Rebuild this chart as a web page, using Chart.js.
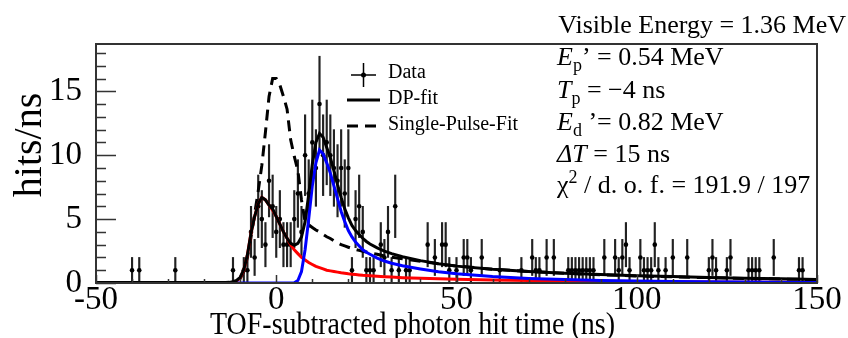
<!DOCTYPE html>
<html>
<head>
<meta charset="utf-8">
<script src="https://cdn.jsdelivr.net/npm/chart.js@4.4.1/dist/chart.umd.min.js"></script>
<style>
  html, body { margin: 0; padding: 0; background: #fff; }
  #wrap { width: 848px; height: 338px; position: relative; }
</style>
</head>
<body>
<div id="wrap"><canvas id="myChart"></canvas></div>
<script>
// measured hits per 1 ns bin (bin centre in ns)
var dataX = [-40, -38, -28, -12, -9, -8, -7, -6, -5, -4,
             -3, -2, -1, 0, 1, 2, 3, 4, 5, 6,
             7, 8, 9, 10, 11, 12, 13, 14, 15, 16,
             17, 18, 19, 20, 21, 22, 23, 24, 25, 26,
             27, 29, 30, 31, 32, 33, 34, 36, 37, 42,
             44, 46, 47, 48, 50, 52, 53, 54, 57, 62,
             68, 71, 72, 73, 75, 77, 81, 82, 83, 84,
             85, 86, 87, 88, 91, 94, 95, 96, 97, 98,
             101, 102, 103, 104, 105, 106, 108, 110, 114, 120,
             121, 122, 125, 126, 131, 132, 133, 134, 138, 145,
             146];
var dataCounts = [1, 1, 1, 1, 1, 1, 4, 2, 6, 5,
                  3, 8, 6, 4, 5, 3, 3, 3, 5, 7,
                  4, 10, 7, 11, 9, 14, 10, 11, 10, 9,
                  8, 9, 7, 9, 1, 5, 6, 4, 1, 1,
                  1, 3, 2, 4, 1, 6, 1, 1, 1, 3,
                  2, 3, 3, 1, 1, 2, 2, 1, 2, 1,
                  1, 2, 1, 1, 2, 2, 1, 1, 1, 1,
                  1, 1, 1, 1, 2, 2, 1, 2, 3, 1,
                  2, 1, 1, 1, 3, 1, 1, 2, 2, 1,
                  2, 1, 1, 2, 1, 1, 1, 1, 2, 1,
                  1];

// fit curves
var curveX = [-50,
  -14, -13, -12, -11, -10, -9, -8, -7, -6, -5, -4, -3, -2, -1,
  0, 1, 2, 3, 4, 5, 6, 7, 8, 9, 10, 11, 12, 13, 14, 15, 16, 17, 18, 19, 20, 21, 22, 23, 24, 25, 26,
  28, 30, 32, 35, 40, 45, 50, 60, 70, 80, 90, 100, 110, 120, 130, 140, 150];
var dpFit = [0.03,
  0.03, 0.05, 0.1, 0.2, 0.45, 1.05, 2.2, 3.9, 5.2, 6.2, 6.7, 6.5, 6.1, 5.8,
  5.2, 4.6, 4.0, 3.5, 3.1, 2.95, 3.1, 3.6, 4.8, 6.9, 9.3, 11.0, 11.7, 11.4, 10.6, 9.8, 8.8, 7.7, 6.7, 5.8, 5.1, 4.5, 4.1, 3.8, 3.5, 3.25, 3.05,
  2.75, 2.5, 2.3, 2.05, 1.75, 1.5, 1.32, 1.07, 0.9, 0.77, 0.66, 0.57, 0.5, 0.44, 0.38, 0.33, 0.28];
var promptFit = [0,
  0, 0, 0.05, 0.15, 0.4, 1.0, 2.2, 3.9, 5.2, 6.2, 6.7, 6.5, 6.1, 5.7,
  5.2, 4.6, 4.0, 3.5, 3.0, 2.6, 2.3, 2.0, 1.8, 1.6, 1.45, 1.3, 1.2, 1.1, 1.0, 0.95, 0.9, 0.85, 0.8, 0.76, 0.72, 0.69, 0.66, 0.63, 0.6, 0.58, 0.56,
  0.52, 0.49, 0.46, 0.42, 0.37, 0.33, 0.3, 0.24, 0.2, 0.16, 0.13, 0.11, 0.09, 0.07, 0.06, 0.05, 0.04];
var delayedFit = [0,
  0, 0, 0, 0, 0, 0, 0, 0, 0, 0, 0, 0, 0, 0,
  0, 0, 0, 0, 0, 0.02, 0.2, 0.9, 2.6, 5.0, 7.6, 9.4, 10.4, 10.1, 9.4, 8.6, 7.6, 6.6, 5.6, 4.8, 4.1, 3.6, 3.2, 2.9, 2.6, 2.4, 2.25,
  1.95, 1.72, 1.55, 1.35, 1.1, 0.88, 0.72, 0.5, 0.36, 0.27, 0.2, 0.16, 0.12, 0.09, 0.07, 0.05, 0.04];
var singleFit = [0,
  0, 0.02, 0.05, 0.15, 0.35, 0.9, 2.0, 3.6, 5.4, 7.2, 9.2, 11.8, 14.6, 16.0,
  16.0, 15.5, 14.6, 13.6, 11.2, 9.9, 8.8, 6.5, 4.8, 4.55, 4.35, 4.15, 4.0, 3.8, 3.62, 3.48, 3.3, 3.15, 3.0, 2.9, 2.8, 2.7, 2.62, 2.55, 2.48, 2.42, 2.36,
  2.25, 2.12, 2.02, 1.9, 1.7, 1.5, 1.33, 1.08, 0.9, 0.76, 0.64, 0.55, 0.48, 0.42, 0.36, 0.31, 0.26];

var xTickValues = [-50, 0, 50, 100, 150];
var yTickValues = [0, 5, 10, 15];

var serif = '"Liberation Serif", "Times New Roman", serif';

function pts(xs, ys) {
  return xs.map(function (x, i) { return { x: x, y: ys[i] }; });
}

var errBars = dataX.map(function (x, i) {
  var c = dataCounts[i], e = Math.sqrt(c);
  return { x: x, y: [c - e, c + e] };
});

// ROOT-like frame, inward ticks, titles, legend and fit text
var rootDecor = {
  id: 'rootDecor',
  afterDatasetsDraw: function (chart) {
    var ctx = chart.ctx, a = chart.chartArea;
    var xs = chart.scales.x, ys = chart.scales.y;
    ctx.save();
    ctx.strokeStyle = '#333';
    ctx.lineWidth = 2;
    ctx.strokeRect(a.left, a.top, a.right - a.left, a.bottom - a.top);
    ctx.lineWidth = 1.5;
    ctx.beginPath();
    for (var v = 0; v <= 18; v++) {
      var py = Math.round(ys.getPixelForValue(v)) + 0.5;
      ctx.moveTo(a.left, py);
      ctx.lineTo(a.left + (v % 5 === 0 ? 20 : 10), py);
    }
    for (var t = -50; t <= 150; t += 10) {
      var px = Math.round(xs.getPixelForValue(t)) + 0.5;
      ctx.moveTo(px, a.bottom);
      ctx.lineTo(px, a.bottom - (t % 50 === 0 ? 8 : 4));
    }
    ctx.stroke();

    ctx.fillStyle = '#000';
    ctx.strokeStyle = '#000';

    // axis titles (ROOT places them off-centre)
    ctx.textBaseline = 'alphabetic';
    ctx.font = '31px ' + serif;
    var xt = 'TOF-subtracted photon hit time (ns)';
    ctx.save();
    ctx.translate(210, 334);
    ctx.scale(405 / ctx.measureText(xt).width, 1);
    ctx.fillText(xt, 0, 0);
    ctx.restore();
    ctx.save();
    ctx.font = '40px ' + serif;
    ctx.translate(41, 145);
    ctx.rotate(-Math.PI / 2);
    ctx.textAlign = 'center';
    ctx.fillText('hits/ns', 0, 0);
    ctx.restore();

    // legend
    ctx.font = '20px ' + serif;
    ctx.textBaseline = 'middle';
    ctx.lineWidth = 1.5;
    ctx.beginPath();
    ctx.moveTo(351, 75); ctx.lineTo(376, 75);
    ctx.moveTo(363.5, 63); ctx.lineTo(363.5, 87);
    ctx.stroke();
    ctx.beginPath(); ctx.arc(363.5, 75, 2.5, 0, Math.PI * 2); ctx.fill();
    ctx.fillText('Data', 388, 73);
    ctx.lineWidth = 3;
    ctx.beginPath(); ctx.moveTo(347, 100); ctx.lineTo(380, 100); ctx.stroke();
    ctx.fillText('DP-fit', 388, 99);
    ctx.setLineDash([11, 7]);
    ctx.beginPath(); ctx.moveTo(347, 126); ctx.lineTo(381, 126); ctx.stroke();
    ctx.setLineDash([]);
    ctx.fillText('Single-Pulse-Fit', 388, 125);

    // fit parameters
    ctx.textBaseline = 'alphabetic';
    var big = '26px ' + serif, ital = 'italic 26px ' + serif, sub = '18px ' + serif;
    function line(x, y, segs) {
      segs.forEach(function (s) {
        ctx.font = s[1];
        ctx.fillText(s[0], x, y + (s[2] || 0));
        x += ctx.measureText(s[0]).width;
      });
    }
    ctx.textAlign = 'right';
    ctx.font = big;
    ctx.fillText('Visible Energy = 1.36 MeV', 846, 33);
    ctx.textAlign = 'left';
    line(557, 65, [['E', ital], ['p', sub, 6], ['\u2019 = 0.54 MeV', big]]);
    line(557, 98, [['T', ital], ['p', sub, 6], [' = \u22124 ns', big]]);
    line(557, 130, [['E', ital], ['d', sub, 6], [' \u2019= 0.82 MeV', big]]);
    line(557, 162, [['\u0394T', ital], [' = 15 ns', big]]);
    line(557, 193, [['\u03c7', big], ['2', sub, -10], [' / d. o. f. = 191.9 / 197', big]]);
    ctx.restore();
  }
};

var ctx = document.getElementById('myChart').getContext('2d');
var myChart = new Chart(ctx, {
  type: 'line',
  data: {
    datasets: [
      { label: 'errors', type: 'bar', data: errBars, backgroundColor: '#222',
        borderWidth: 0, barThickness: 1.5, grouped: false, order: 6 },
      { label: 'Data', data: pts(dataX, dataCounts), showLine: false,
        pointRadius: 2.3, pointBackgroundColor: '#000', pointBorderWidth: 0, order: 5 },
      { label: 'Single-Pulse-Fit', data: pts(curveX, singleFit), borderColor: '#000',
        borderWidth: 3, borderDash: [11, 7], pointRadius: 0, order: 4 },
      { label: 'prompt', data: pts(curveX, promptFit), borderColor: '#ff0000',
        borderWidth: 3, pointRadius: 0, order: 3 },
      { label: 'delayed', data: pts(curveX, delayedFit), borderColor: '#0000ff',
        borderWidth: 3, pointRadius: 0, order: 2 },
      { label: 'DP-fit', data: pts(curveX, dpFit), borderColor: '#000',
        borderWidth: 3, pointRadius: 0, order: 1 }
    ]
  },
  options: {
    responsive: true,
    maintainAspectRatio: false,
    animation: false,
    layout: { padding: { top: 44, right: 31, left: 0, bottom: 0 } },
    plugins: { legend: { display: false }, tooltip: { enabled: false } },
    scales: {
      x: {
        type: 'linear', min: -50, max: 150, offset: false,
        afterBuildTicks: function (s) { s.ticks = xTickValues.map(function (v) { return { value: v }; }); },
        afterFit: function (s) { s.height = 55; },
        grid: { display: false, drawTicks: false, offset: false },
        border: { display: false },
        ticks: { color: '#000', font: { family: serif, size: 33, lineHeight: 1 }, padding: 1, maxRotation: 0, autoSkip: false }
      },
      y: {
        type: 'linear', min: 0, max: 18.7,
        afterBuildTicks: function (s) { s.ticks = yTickValues.map(function (v) { return { value: v }; }); },
        afterFit: function (s) { s.width = 96; },
        grid: { display: false, drawTicks: false },
        border: { display: false },
        ticks: { color: '#000', font: { family: serif, size: 33 }, padding: 14 }
      }
    }
  },
  plugins: [rootDecor]
});
</script>
</body>
</html>
